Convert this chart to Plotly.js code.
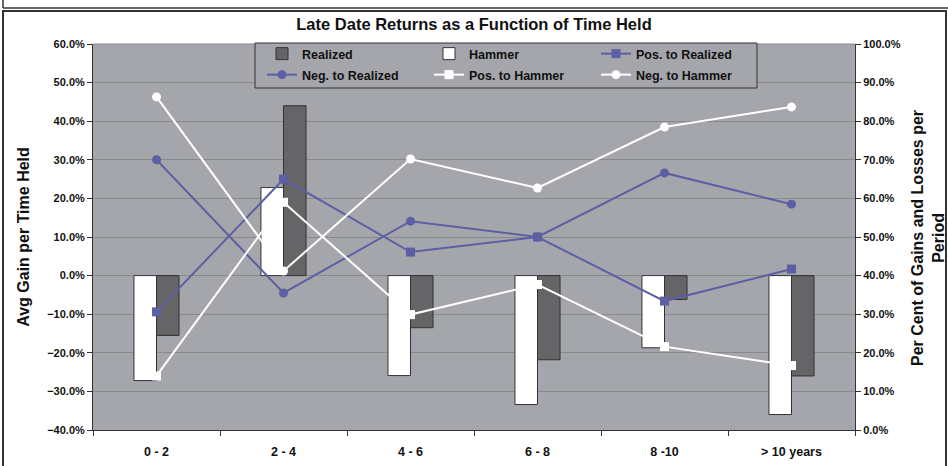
<!DOCTYPE html>
<html>
<head>
<meta charset="utf-8">
<script src="https://cdn.plot.ly/plotly-3.0.1.min.js"></script>
<style>html,body{margin:0;padding:0;background:#fff;}#chart{width:948px;height:466px;}</style>
</head>
<body>
<div id="chart"></div>
<script>
const categories = ['0 - 2', '2 - 4', '4 - 6', '6 - 8', '8 -10', '> 10 years'];
const realized = [-0.155, 0.44, -0.135, -0.218, -0.062, -0.26];
const hammer = [-0.272, 0.228, -0.259, -0.334, -0.187, -0.36];
const posToRealized = [0.306, 0.65, 0.461, 0.50, 0.334, 0.417];
const negToRealized = [0.70, 0.355, 0.541, 0.50, 0.666, 0.585];
const posToHammer = [0.14, 0.59, 0.299, 0.377, 0.216, 0.167];
const negToHammer = [0.863, 0.412, 0.702, 0.627, 0.785, 0.837];
const leftTicks = [-0.4, -0.3, -0.2, -0.1, 0, 0.1, 0.2, 0.3, 0.4, 0.5, 0.6];
const rightTicks = [0, 0.1, 0.2, 0.3, 0.4, 0.5, 0.6, 0.7, 0.8, 0.9, 1.0];

const FONT = 'Arial, "Liberation Sans", sans-serif';
const BLUE = '#5C5FA3';
const GRAY = '#A5A6AB';

const data = [
  {type: 'bar', name: 'Hammer', x: categories, y: hammer, legend: 'legend', legendrank: 2,
   marker: {color: '#FFFFFF', line: {color: '#333333', width: 1}}},
  {type: 'bar', name: 'Realized', x: categories, y: realized, legend: 'legend', legendrank: 1,
   marker: {color: '#656567', line: {color: '#333333', width: 1}}},
  {type: 'scatter', mode: 'lines+markers', name: 'Pos. to Realized', x: categories, y: posToRealized, yaxis: 'y2', legend: 'legend', legendrank: 3,
   line: {color: BLUE, width: 2}, marker: {symbol: 'square', size: 9, color: BLUE}},
  {type: 'scatter', mode: 'lines+markers', name: 'Neg. to Realized', x: categories, y: negToRealized, yaxis: 'y2', legend: 'legend2', legendrank: 4,
   line: {color: BLUE, width: 2}, marker: {symbol: 'circle', size: 9, color: BLUE}},
  {type: 'scatter', mode: 'lines+markers', name: 'Pos. to Hammer', x: categories, y: posToHammer, yaxis: 'y2', legend: 'legend2', legendrank: 5,
   line: {color: '#FFFFFF', width: 2}, marker: {symbol: 'square', size: 9, color: '#FFFFFF'}},
  {type: 'scatter', mode: 'lines+markers', name: 'Neg. to Hammer', x: categories, y: negToHammer, yaxis: 'y2', legend: 'legend2', legendrank: 6,
   line: {color: '#FFFFFF', width: 2}, marker: {symbol: 'circle', size: 9, color: '#FFFFFF'}}
];

// pixel -> paper helpers (plot area: x 93..855, y 44..430)
const px = v => (v - 93) / 762;
const py = v => (430 - v) / 386;

const legendBase = {orientation: 'h', xanchor: 'left', yanchor: 'top',
  bgcolor: 'rgba(0,0,0,0)', borderwidth: 0,
  entrywidth: 122, entrywidthmode: 'pixels', itemwidth: 30,
  font: {family: FONT, size: 12.5, weight: 'bold', color: '#111'}, tracegroupgap: 0};

const layout = {
  width: 948, height: 466,
  margin: {l: 93, r: 93, t: 44, b: 36, pad: 0},
  paper_bgcolor: '#FFFFFF',
  plot_bgcolor: GRAY,
  font: {family: FONT, color: '#222222', size: 11, weight: 'bold'},
  title: {text: 'Late Date Returns as a Function of Time Held', font: {family: FONT, size: 16.5, weight: 'bold', color: '#111'},
          x: 0.5, xanchor: 'center', y: 1 - 24/466, yanchor: 'middle'},
  barmode: 'group',
  bargap: 0.645,
  bargroupgap: 0,
  showlegend: true,
  legend: Object.assign({}, legendBase, {x: px(262), y: py(39)}),
  legend2: Object.assign({}, legendBase, {x: px(262), y: py(60)}),
  xaxis: {type: 'category', tickson: 'boundaries', ticks: 'outside', ticklen: 5, tickcolor: '#333',
          showline: true, linecolor: '#333', linewidth: 1, showgrid: false,
          tickfont: {family: FONT, size: 12.5, weight: 'bold', color: '#111'}, ticklabelstandoff: 10},
  yaxis: {range: [-0.4, 0.6], tickvals: leftTicks, tickformat: '.1%', ticks: 'outside', ticklen: 5, tickcolor: '#333',
          showline: true, linecolor: '#333', linewidth: 1, showgrid: true, gridcolor: '#88898D', gridwidth: 1,
          zeroline: false, tickfont: {family: FONT, size: 11, weight: 'bold', color: '#111'},
          title: {text: 'Avg Gain per Time Held', font: {family: FONT, size: 16, weight: 'bold', color: '#111'}, standoff: 13}},
  yaxis2: {range: [0, 1], tickvals: rightTicks, tickformat: '.1%', overlaying: 'y', side: 'right', ticks: 'outside', ticklen: 5, tickcolor: '#333',
           showline: true, linecolor: '#333', linewidth: 1, showgrid: false, zeroline: false,
           tickfont: {family: FONT, size: 11, weight: 'bold', color: '#111'}},
  annotations: [
    {text: 'Per Cent of Gains and Losses per<br>Period', xref: 'paper', yref: 'paper', x: px(928), y: py(238),
     xanchor: 'center', yanchor: 'middle', textangle: -90, showarrow: false,
     font: {family: FONT, size: 16, weight: 'bold', color: '#111'}}
  ],
  shapes: [
    {type: 'line', xref: 'paper', yref: 'paper', x0: px(3), x1: px(948), y0: py(8), y1: py(8), line: {color: '#333', width: 1.5}},
    {type: 'line', xref: 'paper', yref: 'paper', x0: px(3), x1: px(3), y0: py(0), y1: py(8), line: {color: '#333', width: 1.5}},
    {type: 'rect', xref: 'paper', yref: 'paper', x0: px(3), x1: px(946), y0: py(470), y1: py(11), line: {color: '#333', width: 2}, fillcolor: 'rgba(0,0,0,0)'},
    {type: 'line', xref: 'paper', yref: 'paper', x0: 0, x1: 1, y0: 1, y1: 1, line: {color: '#8A8B8F', width: 1}},
    {type: 'rect', xref: 'paper', yref: 'paper', layer: 'above', x0: px(255), x1: px(757), y0: py(88), y1: py(43),
     line: {color: '#333', width: 1}, fillcolor: GRAY}
  ]
};

Plotly.newPlot('chart', data, layout, {displayModeBar: false, staticPlot: true});
</script>
</body>
</html>
